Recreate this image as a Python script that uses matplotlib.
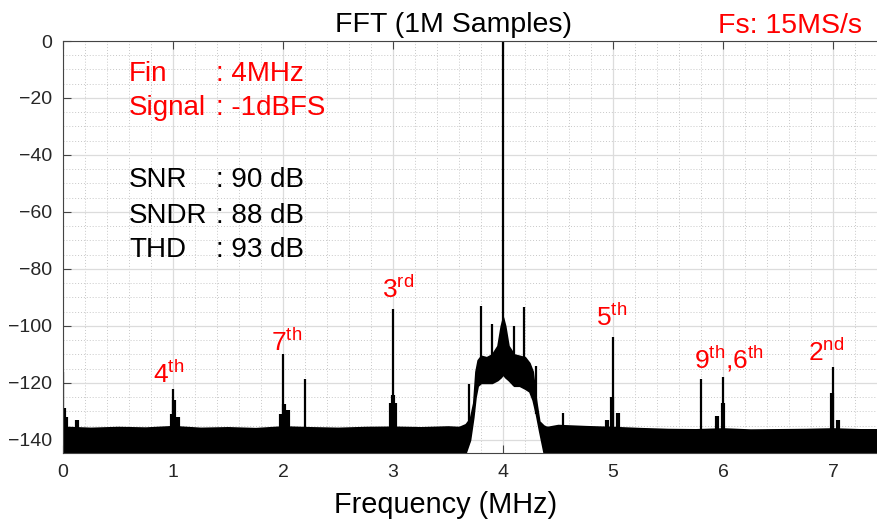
import numpy as np
import matplotlib.pyplot as plt
from matplotlib.ticker import MultipleLocator

# 字型設定
plt.rcParams['font.family'] = ['Liberation Sans', 'DejaVu Sans']
plt.rcParams['mathtext.fontset'] = 'custom'
plt.rcParams['mathtext.rm'] = 'Liberation Sans'
plt.rcParams['mathtext.it'] = 'Liberation Sans:italic'

# 雜訊底 (noise floor) 上緣, MHz / dBFS
floor_left_f = [0.0, 0.05, 0.25, 0.5, 0.75, 1.0, 1.25, 1.5, 1.75, 2.0, 2.25, 2.5, 2.75, 3.0, 3.25, 3.5, 3.6]
floor_left_db = [-135.5, -135.5, -135.8, -135.5, -135.7, -135.2, -135.8, -135.6, -135.9, -135.3, -135.6, -135.8, -135.5, -135.4, -135.6, -135.3, -135.5]
floor_right_f = [4.4, 4.5, 4.75, 5.0, 5.25, 5.5, 5.75, 6.0, 6.25, 6.5, 6.75, 7.0, 7.25, 7.5]
floor_right_db = [-135.5, -134.8, -135.2, -135.5, -135.9, -136.2, -136.3, -136.0, -136.4, -136.3, -136.2, -136.0, -136.3, -136.3]

# 基頻周圍的裙帶
skirt_f = [3.60, 3.66, 3.70, 3.73, 3.75, 3.77, 3.80, 3.85, 3.90, 3.95, 3.98, 4.00,
           4.02, 4.05, 4.10, 4.15, 4.20, 4.24, 4.27, 4.30, 4.33, 4.37, 4.40]
skirt_top = [-135.5, -134.5, -132.5, -127, -116, -112, -110.5, -111, -110, -107, -100, -97,
             -100, -107, -110, -110.5, -111, -113, -116, -126, -133.5, -135, -135.5]
skirt_bot = [-144.5, -144.5, -140, -132, -125, -121, -120, -120, -120, -119, -118, -117,
             -118, -119, -121, -121, -122, -123, -126, -131, -137, -144.5, -144.5]

# 主要突波 (諧波 / spur)
spur_f = [0.0, 1.0, 2.0, 2.2, 3.0, 3.69, 3.80, 3.90, 4.0, 4.10, 4.19, 4.30, 4.55, 5.0, 5.8, 6.0, 7.0]
spur_db = [-116, -122, -110, -118.7, -94, -120.4, -93, -99.3, 0, -100.2, -93.2, -114, -130.5,
           -103.8, -118.6, -117.8, -114.5]

# 諧波旁的小突波
side_f = [0.005, 0.03, 0.125, 0.99, 1.01, 1.045, 1.98, 2.01, 2.05, 2.985, 3.0, 3.015,
          4.95, 4.99, 5.05, 5.95, 6.0, 6.99, 7.05]
side_db = [-128.8, -131.8, -133, -131, -126, -132, -131, -127.4, -129.6, -127, -124.2, -127,
           -133, -125, -130.5, -131.5, -127, -123.5, -133]

# 諧波標籤
harm_labels = [r'4$^{\mathrm{th}}$', r'7$^{\mathrm{th}}$', r'3$^{\mathrm{rd}}$', r'5$^{\mathrm{th}}$',
               r'9$^{\mathrm{th}}$,6$^{\mathrm{th}}$', r'2$^{\mathrm{nd}}$']
harm_x = [0.818, 1.888, 2.897, 4.845, 5.736, 6.77]
harm_y = [-119.9, -108.7, -90.3, -100.2, -114.9, -112.2]

ymin = -144.5

fig = plt.figure(figsize=(8.78, 5.23), dpi=100)
ax = fig.add_axes([0.07175, 0.1344, 0.9396, 0.7872])

ax.fill_between(floor_left_f, ymin, floor_left_db, color='black', lw=1.2, edgecolor='black')
ax.fill_between(floor_right_f, ymin, floor_right_db, color='black', lw=1.2, edgecolor='black')
ax.fill_between(skirt_f, skirt_bot, skirt_top, color='black', lw=1.2, edgecolor='black')
ax.vlines(side_f, ymin, side_db, color='black', lw=3.0)
# 裙帶內的突波從裙帶下緣畫起
spur_bot = np.interp(spur_f, skirt_f, skirt_bot, left=ymin, right=ymin)
ax.vlines(spur_f, spur_bot, spur_db, color='black', lw=1.6)

for lab, x, y in zip(harm_labels, harm_x, harm_y):
    ax.text(x, y, lab, color='red', fontsize=19, ha='left', va='baseline')

# 左上角資訊
info_red = [('Fin', ': 4MHz', -14.0), ('Signal', ': -1dBFS', -26.0)]
info_blk = [('SNR', ': 90 dB', -51.2), ('SNDR', ': 88 dB', -63.8), ('THD', ': 93 dB', -75.7)]
for name, val, y in info_red:
    ax.text(0.6, y, name, color='red', fontsize=20, va='baseline')
    ax.text(1.39, y, val, color='red', fontsize=20, va='baseline')
for name, val, y in info_blk:
    ax.text(0.6, y, name, color='black', fontsize=20, va='baseline')
    ax.text(1.39, y, val, color='black', fontsize=20, va='baseline')

ax.set_xlim(0, 7.5)
ax.set_ylim(ymin, 0)
ax.xaxis.set_major_locator(MultipleLocator(1))
ax.xaxis.set_minor_locator(MultipleLocator(0.2))
ax.yaxis.set_major_locator(MultipleLocator(20))
ax.yaxis.set_minor_locator(MultipleLocator(5))
ax.set_axisbelow(True)
ax.grid(which='major', color='#dcdcdc', lw=0.9, ls='-')
ax.grid(which='minor', color='#c8c8c8', lw=0.7, ls=(0, (1, 2)))
ax.tick_params(which='major', direction='in', length=6, width=0.8, color='#444444',
               top=True, right=True, labelsize=14, labelcolor='#262626', pad=8)
ax.tick_params(which='minor', length=0)
for s in ax.spines.values():
    s.set_color('#444444')
    s.set_linewidth(0.8)

fig.text(453.5 / 878, 1 - 31.7 / 523, 'FFT (1M Samples)', fontsize=20.5, ha='center', va='baseline')
fig.text(718 / 878, 1 - 33 / 523, 'Fs: 15MS/s', fontsize=20.5, color='red', ha='left', va='baseline')
fig.text(446 / 878, 1 - 513 / 523, 'Frequency (MHz)', fontsize=20.8, ha='center', va='baseline')

fig.savefig('out.png', dpi=100)
